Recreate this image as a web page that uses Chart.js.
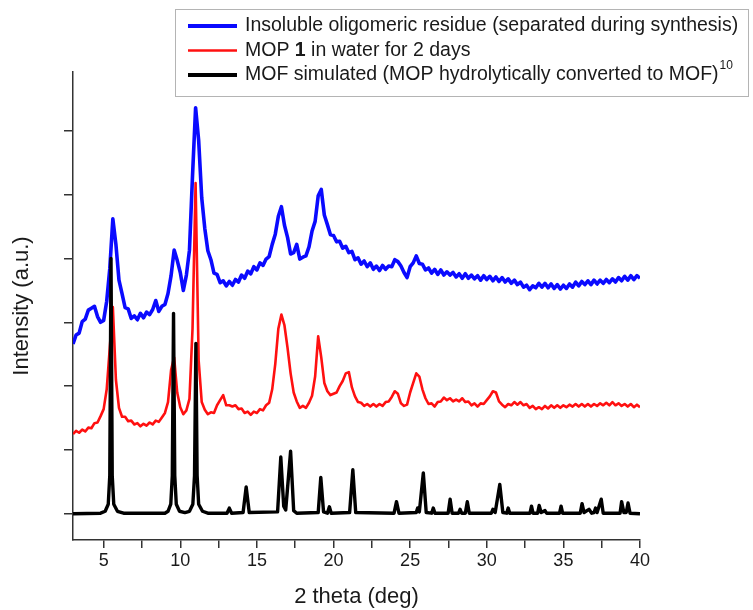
<!DOCTYPE html>
<html><head><meta charset="utf-8">
<script src="https://cdn.jsdelivr.net/npm/chart.js@4/dist/chart.umd.min.js"></script>
<style>html,body{margin:0;padding:0;background:#fff;}canvas{display:block;}</style>
</head><body>
<canvas id="c" width="753" height="610"></canvas>
<script>
// 2-theta grid (deg) for the two measured patterns
const twoTheta = [
 3.0,3.2,3.4,3.6,3.8,4.0,4.2,4.4,4.6,4.8,
 5.0,5.2,5.4,5.6,5.8,6.0,6.2,6.4,6.6,6.8,
 7.0,7.2,7.4,7.6,7.8,8.0,8.2,8.4,8.6,8.8,
 9.0,9.2,9.4,9.6,9.8,10.0,10.2,10.4,10.6,10.8,
 11.0,11.2,11.4,11.6,11.8,12.0,12.2,12.4,12.6,12.8,
 13.0,13.2,13.4,13.6,13.8,14.0,14.2,14.4,14.6,14.8,
 15.0,15.2,15.4,15.6,15.8,16.0,16.2,16.4,16.6,16.8,
 17.0,17.2,17.4,17.6,17.8,18.0,18.2,18.4,18.6,18.8,
 19.0,19.2,19.4,19.6,19.8,20.0,20.2,20.4,20.6,20.8,
 21.0,21.2,21.4,21.6,21.8,22.0,22.2,22.4,22.6,22.8,
 23.0,23.2,23.4,23.6,23.8,24.0,24.2,24.4,24.6,24.8,
 25.0,25.2,25.4,25.6,25.8,26.0,26.2,26.4,26.6,26.8,
 27.0,27.2,27.4,27.6,27.8,28.0,28.2,28.4,28.6,28.8,
 29.0,29.2,29.4,29.6,29.8,30.0,30.2,30.4,30.6,30.8,
 31.0,31.2,31.4,31.6,31.8,32.0,32.2,32.4,32.6,32.8,
 33.0,33.2,33.4,33.6,33.8,34.0,34.2,34.4,34.6,34.8,
 35.0,35.2,35.4,35.6,35.8,36.0,36.2,36.4,36.6,36.8,
 37.0,37.2,37.4,37.6,37.8,38.0,38.2,38.4,38.6,38.8,
 39.0,39.2,39.4,39.6,39.8,40.0];

// Insoluble oligomeric residue (blue, offset intensity)
const residue = [
 2.66,2.80,2.83,3.01,3.05,3.19,3.22,3.25,3.09,3.00,
 3.03,3.33,3.84,4.62,4.22,3.66,3.45,3.23,3.21,3.06,
 3.10,3.04,3.14,3.07,3.16,3.12,3.20,3.34,3.17,3.25,
 3.28,3.45,3.73,4.13,3.97,3.78,3.50,3.74,4.13,5.30,
 6.36,5.85,4.95,4.47,4.12,3.98,3.77,3.75,3.62,3.65,
 3.57,3.64,3.58,3.67,3.63,3.74,3.69,3.80,3.76,3.87,
 3.82,3.93,3.89,3.99,4.03,4.22,4.38,4.66,4.81,4.52,
 4.33,4.07,4.09,4.22,3.99,4.02,4.04,4.18,4.43,4.58,
 4.98,5.08,4.68,4.53,4.37,4.36,4.26,4.27,4.16,4.19,
 4.09,4.11,3.98,4.01,3.91,3.96,3.87,3.93,3.83,3.88,
 3.81,3.89,3.83,3.88,3.87,3.98,3.95,3.88,3.78,3.70,
 3.87,3.93,4.04,3.92,3.91,3.82,3.85,3.77,3.83,3.75,
 3.82,3.74,3.79,3.74,3.78,3.71,3.76,3.69,3.76,3.69,
 3.74,3.68,3.73,3.66,3.73,3.67,3.72,3.65,3.71,3.64,
 3.70,3.63,3.68,3.61,3.66,3.59,3.63,3.55,3.58,3.51,
 3.57,3.54,3.61,3.55,3.61,3.54,3.60,3.53,3.59,3.52,
 3.58,3.53,3.60,3.55,3.63,3.57,3.64,3.59,3.65,3.59,
 3.66,3.60,3.66,3.61,3.67,3.62,3.68,3.63,3.70,3.65,
 3.72,3.66,3.73,3.67,3.73,3.69];

// MOP 1 in water for 2 days (red, offset intensity)
const mopWater = [
 1.25,1.30,1.27,1.32,1.29,1.35,1.34,1.42,1.43,1.53,
 1.64,1.95,2.60,3.24,2.10,1.66,1.52,1.52,1.45,1.46,
 1.40,1.42,1.37,1.41,1.38,1.43,1.40,1.46,1.44,1.51,
 1.58,1.75,2.25,2.45,1.90,1.67,1.56,1.62,1.80,2.90,
 5.18,2.40,1.75,1.63,1.56,1.59,1.58,1.70,1.78,1.86,
 1.70,1.70,1.68,1.70,1.64,1.65,1.58,1.60,1.55,1.60,
 1.58,1.64,1.62,1.70,1.74,1.95,2.35,2.90,3.12,2.95,
 2.60,2.20,1.90,1.76,1.66,1.69,1.66,1.74,1.85,2.15,
 2.78,2.45,2.05,1.92,1.86,1.88,1.90,2.00,2.08,2.20,
 2.22,1.98,1.84,1.75,1.74,1.69,1.72,1.68,1.72,1.68,
 1.72,1.69,1.75,1.76,1.83,1.92,1.88,1.73,1.69,1.71,
 1.90,2.05,2.20,2.15,1.95,1.81,1.72,1.73,1.68,1.75,
 1.76,1.82,1.78,1.81,1.76,1.79,1.76,1.81,1.75,1.76,
 1.70,1.73,1.68,1.73,1.72,1.78,1.84,1.92,1.90,1.76,
 1.71,1.67,1.72,1.70,1.75,1.71,1.75,1.70,1.72,1.66,
 1.69,1.64,1.67,1.64,1.69,1.65,1.70,1.66,1.70,1.66,
 1.70,1.67,1.71,1.68,1.72,1.68,1.72,1.68,1.72,1.68,
 1.72,1.69,1.73,1.70,1.74,1.70,1.75,1.70,1.73,1.69,
 1.72,1.68,1.72,1.67,1.71,1.67];

// MOF simulated pattern (black)
const mofX = [
 3.0,4.8,5.1,5.3,5.4,5.48,5.56,5.66,5.9,6.3,
 9.0,9.2,9.38,9.48,9.56,9.64,9.74,9.95,10.3,10.6,10.82,10.93,11.02,11.1,11.2,11.45,11.8,
 13.05,13.2,13.35,14.1,14.3,14.5,
 16.35,16.56,16.75,16.88,17.2,17.4,17.6,
 19.0,19.17,19.35,19.6,19.73,19.85,
 21.05,21.26,21.45,
 23.95,24.11,24.27,25.4,25.49,25.6,25.86,26.05,26.4,26.51,26.62,
 27.48,27.61,27.74,28.16,28.26,28.36,28.6,28.73,28.86,
 30.3,30.4,30.55,30.85,31.05,31.3,31.4,31.5,
 32.82,32.92,33.02,33.32,33.42,33.55,33.8,33.9,
 34.75,34.85,34.95,36.1,36.22,36.35,36.67,36.85,37.0,37.1,37.2,37.47,37.6,
 38.7,38.8,38.95,39.1,39.22,39.35,40.0];
const mofY = [
 0.00,0.01,0.04,0.15,0.60,4.00,0.60,0.15,0.04,0.01,
 0.01,0.04,0.15,0.60,3.14,0.60,0.15,0.04,0.02,0.04,0.15,0.60,2.67,0.60,0.15,0.04,0.01,
 0.01,0.09,0.01,0.02,0.42,0.02,
 0.03,0.89,0.12,0.06,0.98,0.05,0.01,
 0.02,0.57,0.03,0.01,0.11,0.01,
 0.02,0.69,0.02,
 0.01,0.19,0.01,0.02,0.09,0.03,0.64,0.02,0.01,0.09,0.01,
 0.01,0.23,0.01,0.01,0.07,0.01,0.01,0.19,0.01,
 0.01,0.07,0.02,0.46,0.02,0.01,0.09,0.01,
 0.01,0.12,0.01,0.01,0.13,0.02,0.05,0.01,
 0.01,0.12,0.01,0.01,0.16,0.02,0.07,0.01,0.02,0.09,0.02,0.23,0.01,
 0.01,0.19,0.02,0.02,0.17,0.01,0.00];

const xMajorTicks = [5,10,15,20,25,30,35,40];
const xMinorTicks = [7.5,12.5,17.5,22.5,27.5,32.5,37.5];
const yTicks = [0,1,2,3,4,5,6];

const seriesNames = [
 'Insoluble oligomeric residue (separated during synthesis)',
 'MOP 1 in water for 2 days',
 'MOF simulated (MOP hydrolytically converted to MOF)10'
];
// rich rendering of the legend entries (bold "1", superscript "10")
const legendRich = [
 [{t:'Insoluble oligomeric residue (separated during synthesis)'}],
 [{t:'MOP '},{t:'1',bold:true},{t:' in water for 2 days'}],
 [{t:'MOF simulated (MOP hydrolytically converted to MOF)'},{t:'10',sup:true}]
];

const FONT = "'Liberation Sans', Arial, sans-serif";
const TXT = '#1a1a1a';

const legendPlugin = {
  id: 'boxLegend',
  afterDraw(chart) {
    const ctx = chart.ctx;
    ctx.save();
    const bx = 175.5, by = 9.5, bw = 573, bh = 87;
    ctx.fillStyle = '#ffffff';
    ctx.fillRect(bx, by, bw, bh);
    ctx.strokeStyle = '#b4b4b4';
    ctx.lineWidth = 1;
    ctx.strokeRect(bx, by, bw, bh);
    const rows = [26, 50.5, 75];
    const sampleW = [4, 2.6, 4];
    chart.data.datasets.forEach((ds, i) => {
      const y = rows[i];
      ctx.strokeStyle = ds.borderColor;
      ctx.lineWidth = sampleW[i];
      ctx.beginPath(); ctx.moveTo(188, y); ctx.lineTo(237, y); ctx.stroke();
      let x = 245;
      ctx.fillStyle = TXT;
      ctx.textBaseline = 'middle';
      ctx.textAlign = 'left';
      legendRich[i].forEach(seg => {
        if (seg.sup) {
          ctx.font = '12px ' + FONT;
          ctx.fillText(seg.t, x + 1, y - 9);
          x += ctx.measureText(seg.t).width + 1;
        } else {
          ctx.font = (seg.bold ? 'bold ' : '') + '19.5px ' + FONT;
          ctx.fillText(seg.t, x, y);
          x += ctx.measureText(seg.t).width;
        }
      });
    });
    ctx.restore();
  }
};

new Chart(document.getElementById('c'), {
  type: 'line',
  data: {
    datasets: [
      { label: seriesNames[0], data: twoTheta.map((x, i) => ({x, y: residue[i]})),
        borderColor: '#0a0aff', borderWidth: 3.6, borderJoinStyle: 'round', pointRadius: 0, tension: 0, order: 3 },
      { label: seriesNames[1], data: twoTheta.map((x, i) => ({x, y: mopWater[i]})),
        borderColor: '#ff1010', borderWidth: 2.6, borderJoinStyle: 'round', pointRadius: 0, tension: 0, order: 2 },
      { label: seriesNames[2], data: mofX.map((x, i) => ({x, y: mofY[i]})),
        borderColor: '#000000', borderWidth: 3.4, borderJoinStyle: 'round', pointRadius: 0, tension: 0, order: 1 }
    ]
  },
  options: {
    responsive: false,
    animation: false,
    devicePixelRatio: 1,
    layout: { padding: { top: 72, right: 113, left: 0, bottom: 0 } },
    plugins: { legend: { display: false }, tooltip: { enabled: false } },
    scales: {
      x: {
        type: 'linear', min: 3, max: 40,
        afterBuildTicks: s => { s.ticks = xMajorTicks.concat(xMinorTicks).sort((a,b)=>a-b).map(v => ({value: v})); },
        afterFit: s => { s.height = 70; },
        ticks: { font: { family: FONT, size: 18 }, color: TXT, padding: 2, maxRotation: 0, autoSkip: false,
                 callback: v => xMajorTicks.includes(v) ? String(v) : '' },
        grid: { drawOnChartArea: false, drawTicks: true, tickLength: 8, color: '#333', lineWidth: 1.5 },
        border: { color: '#333', width: 1.5 },
        title: { display: true, text: '2 theta (deg)', font: { family: FONT, size: 22 }, color: TXT, padding: { top: 0, bottom: 0 } }
      },
      y: {
        type: 'linear', min: -0.41, max: 6.92,
        afterBuildTicks: s => { s.ticks = yTicks.map(v => ({value: v})); },
        afterFit: s => { s.width = 73; },
        ticks: { callback: () => '', padding: 0 },
        grid: { drawOnChartArea: false, drawTicks: true, tickLength: 9, color: '#333', lineWidth: 1.5 },
        border: { color: '#333', width: 1.5 },
        title: { display: true, text: 'Intensity (a.u.)', font: { family: FONT, size: 22 }, color: TXT, padding: { top: 9, bottom: 0 } }
      }
    }
  },
  plugins: [legendPlugin]
});
</script>
</body></html>
